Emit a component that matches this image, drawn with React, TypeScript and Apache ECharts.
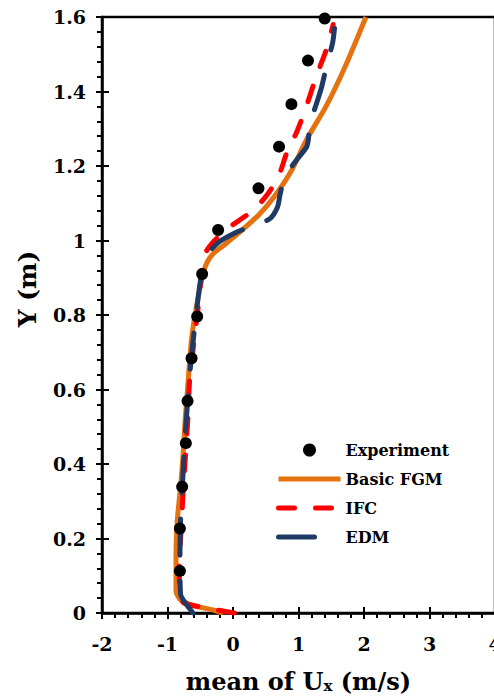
import React, { useEffect, useRef } from "react";
import * as echarts from "echarts";

const FONT = "DejaVu Serif";

const experiment: [number, number][] = [
  [-0.811, 0.113], [-0.811, 0.227], [-0.776, 0.339], [-0.72, 0.456],
  [-0.694, 0.569], [-0.633, 0.684], [-0.547, 0.796], [-0.471, 0.91],
  [-0.227, 1.028], [0.389, 1.14], [0.703, 1.252], [0.892, 1.366],
  [1.145, 1.483], [1.4, 1.596],
];

const basicFGM: [number, number][] = [
  [-0.15, 0.0], [-0.3, 0.008], [-0.6, 0.02], [-0.8, 0.035], [-0.87, 0.06],
  [-0.87, 0.15], [-0.85, 0.25], [-0.8, 0.34], [-0.76, 0.43], [-0.73, 0.52],
  [-0.69, 0.61], [-0.63, 0.74], [-0.55, 0.83], [-0.47, 0.9], [-0.4, 0.94],
  [-0.3, 0.965], [-0.12, 0.99], [0.12, 1.025], [0.4, 1.07], [0.64, 1.12],
  [0.9, 1.19], [1.12, 1.27], [1.42, 1.36], [1.72, 1.47], [2.03, 1.6],
];

const ifc: [number, number][] = [
  [0.02, 0.0], [-0.45, 0.015], [-0.75, 0.027], [-0.82, 0.05], [-0.82, 0.12],
  [-0.79, 0.23], [-0.76, 0.33], [-0.73, 0.41], [-0.69, 0.52], [-0.66, 0.63],
  [-0.58, 0.75], [-0.52, 0.84], [-0.47, 0.93], [-0.41, 0.97], [-0.28, 1.0],
  [-0.1, 1.03], [0.3, 1.08], [0.51, 1.12], [0.69, 1.17], [0.83, 1.24],
  [0.97, 1.29], [1.12, 1.36], [1.27, 1.44], [1.42, 1.51], [1.53, 1.58],
];

const edm: [number, number][] = [
  [-0.61, 0.0], [-0.72, 0.025], [-0.8, 0.05], [-0.81, 0.15], [-0.8, 0.25],
  [-0.77, 0.35], [-0.74, 0.45], [-0.7, 0.55], [-0.65, 0.66], [-0.59, 0.76],
  [-0.53, 0.85], [-0.47, 0.92], [-0.4, 0.96], [-0.22, 0.995], [0.03, 1.02],
  [0.33, 1.042], [0.56, 1.058], [0.68, 1.09], [0.72, 1.125], [0.79, 1.17],
  [0.97, 1.216], [1.12, 1.25], [1.15, 1.27], [1.17, 1.31], [1.26, 1.36],
  [1.35, 1.41], [1.43, 1.47], [1.52, 1.53], [1.55, 1.57],
];

const seriesNames = ["Experiment", "Basic FGM", "IFC", "EDM"];
const yAxisTitle = "Y (m)";
const xAxisTitle = "{a|mean of U}{b|x}{a| (m/s)}";

export default function App() {
  const ref = useRef<HTMLDivElement>(null);
  useEffect(() => {
    if (!ref.current) return;
    const chart = echarts.init(ref.current, null, { renderer: "svg" });
    const labelStyle = {
      fontFamily: FONT,
      fontWeight: "bold" as const,
      fontSize: 19,
      color: "#000",
    };
    const axisLine = { show: true, onZero: false, lineStyle: { color: "#000", width: 2.5 } };
    const lineW = 5;
    chart.setOption({
      animation: false,
      backgroundColor: "#fff",
      grid: {
        left: 102,
        top: 17,
        width: 393,
        height: 596,
        show: true,
        borderColor: "#000",
        borderWidth: 2.5,
        containLabel: false,
        outerBoundsMode: "none",
      },
      graphic: [
        {
          type: "text",
          x: 27,
          y: 289,
          rotation: Math.PI / 2,
          style: {
            text: yAxisTitle,
            fontFamily: FONT,
            fontWeight: "bold",
            fontSize: 25,
            fill: "#000",
            align: "center",
            verticalAlign: "middle",
          },
        },
      ],
      xAxis: [
        {
          type: "value",
          min: -2,
          max: 4,
          interval: 1,
          position: "bottom",
          axisLine,
          axisTick: { show: true, length: 6, lineStyle: { color: "#000", width: 2 } },
          minorTick: { show: true, splitNumber: 5, length: 5, lineStyle: { color: "#000", width: 2 } },
          splitLine: { show: false },
          axisLabel: { ...labelStyle, margin: 21 },
          name: xAxisTitle,
          nameLocation: "middle",
          nameGap: 56,
          nameTextStyle: {
            rich: {
              a: { fontFamily: FONT, fontWeight: "bold", fontSize: 24, color: "#000", lineHeight: 24 },
              b: { fontFamily: FONT, fontWeight: "bold", fontSize: 15, color: "#000", lineHeight: 12, verticalAlign: "bottom" },
            },
          },
        },
        {
          type: "value",
          min: -2,
          max: 4,
          interval: 1,
          position: "bottom",
          axisLine: { show: false, onZero: false },
          axisTick: { show: true, inside: true, length: 6, lineStyle: { color: "#000", width: 2 } },
          axisLabel: { show: false },
          splitLine: { show: false },
        },
      ],
      yAxis: [
        {
          type: "value",
          min: 0,
          max: 1.6,
          interval: 0.2,
          position: "left",
          axisLine,
          axisTick: { show: true, length: 6, lineStyle: { color: "#000", width: 2 } },
          minorTick: { show: true, splitNumber: 5, length: 5, lineStyle: { color: "#000", width: 2 } },
          splitLine: { show: false },
          axisLabel: { ...labelStyle, margin: 16 },
        },
        {
          type: "value",
          min: 0,
          max: 1.6,
          interval: 0.2,
          position: "left",
          axisLine: { show: false, onZero: false },
          axisTick: { show: true, inside: true, length: 7, lineStyle: { color: "#000", width: 2 } },
          axisLabel: { show: false },
          splitLine: { show: false },
        },
      ],
      legend: {
        data: [
          { name: "Experiment" },
          { name: "Basic FGM", itemStyle: { opacity: 0 } },
          { name: "IFC", itemStyle: { opacity: 0 } },
          { name: "EDM", itemStyle: { opacity: 0 } },
        ],
        orient: "vertical",
        left: 271,
        top: 437,
        itemWidth: 62,
        itemHeight: 13,
        itemGap: 13,
        lineStyle: { width: lineW },
        textStyle: { fontFamily: FONT, fontWeight: "bold", fontSize: 16, color: "#000" },
      },
      series: [
        {
          name: seriesNames[1],
          type: "line",
          data: basicFGM,
          smooth: 0.25,
          symbol: "none",
          lineStyle: { color: "#E5720E", width: lineW },
          itemStyle: { color: "#E5720E" },
        },
        {
          name: seriesNames[2],
          type: "line",
          data: ifc,
          smooth: 0.25,
          symbol: "none",
          lineStyle: { color: "#FF0000", width: lineW, type: [16, 21], cap: "round" },
          itemStyle: { color: "#FF0000" },
        },
        {
          name: seriesNames[3],
          type: "line",
          data: edm,
          smooth: 0.25,
          symbol: "none",
          lineStyle: { color: "#1F3A64", width: lineW, type: [36, 26], cap: "round" },
          itemStyle: { color: "#1F3A64" },
        },
        {
          name: seriesNames[0],
          type: "scatter",
          data: experiment,
          symbol: "circle",
          symbolSize: 12,
          itemStyle: { color: "#000", opacity: 1 },
          z: 5,
        },
      ],
    });
    return () => chart.dispose();
  }, []);
  return (
    <div
      ref={ref}
      style={{ position: "fixed", left: 0, top: 0, width: 494, height: 697 }}
    />
  );
}
